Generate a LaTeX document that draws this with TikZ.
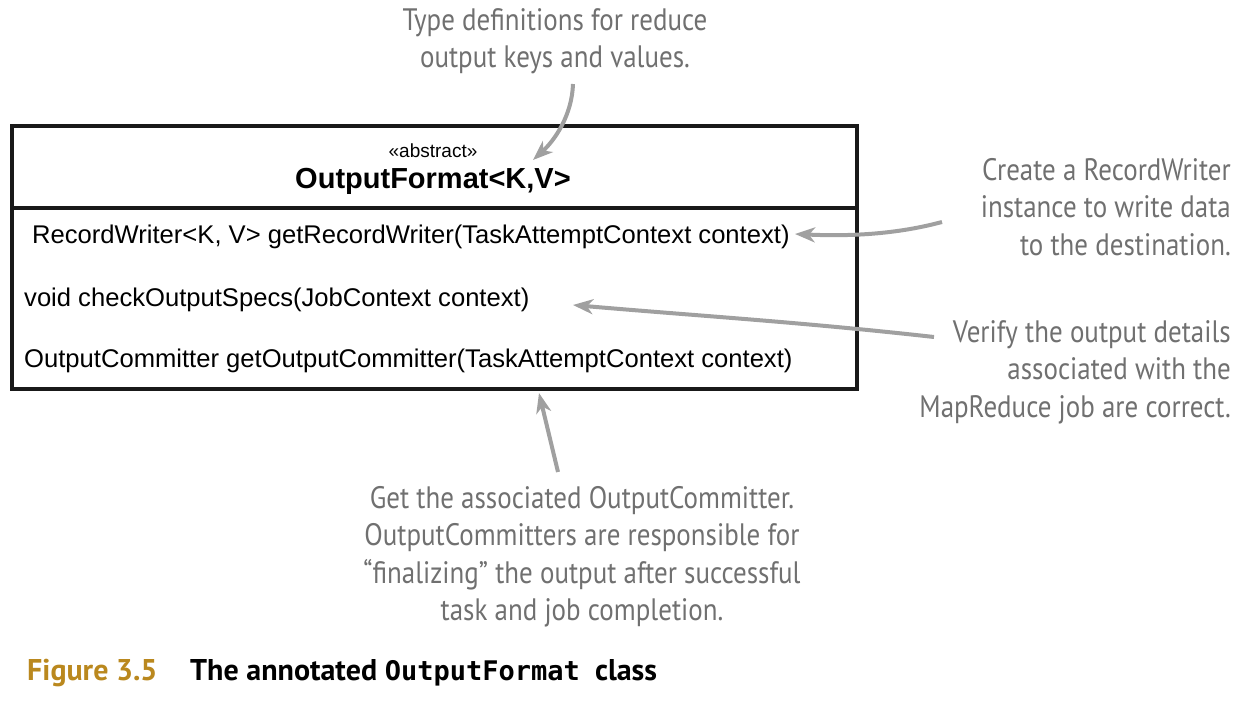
\documentclass[tikz,border=0pt]{standalone}
\usepackage{fontspec}
\setmainfont{Liberation Sans}
\newfontfamily\hand[FakeStretch=0.87]{PT Sans}
\newfontfamily\capfont{PT Sans}
\setmonofont{DejaVu Sans Mono}
\usetikzlibrary{arrows.meta}
\definecolor{handgray}{RGB}{112,112,112}
\definecolor{arrgray}{RGB}{160,160,160}
\definecolor{figgold}{RGB}{186,136,30}
\tikzset{
  note/.style={text=handgray, inner sep=0pt, font=\fontsize{31}{37.5}\selectfont\hand},
  meth/.style={anchor=base west, inner sep=0pt, font=\fontsize{25.6}{30}\selectfont},
  callout/.style={draw=arrgray, line width=4pt, -{Stealth[length=20pt,width=15pt,inset=6pt]}},
  boxline/.style={line width=3.6pt, draw=black!90}
}
\begin{document}
\begin{tikzpicture}[x=1pt,y=-1pt]
\useasboundingbox (0,0) rectangle (1237,712);
% class box
\draw[boxline] (12,126) rectangle (857,389);
\draw[boxline] (12,208) -- (857,208);
\node[anchor=base, inner sep=0pt, font=\fontsize{19}{22}\selectfont] (stereo) at (433,157) {«abstract»};
\node[anchor=base, inner sep=0pt, font=\fontsize{29}{34}\selectfont\bfseries] (title) at (433,188) {OutputFormat<K,V>};
\node[meth] (m1) at (32,243) {RecordWriter<K, V> getRecordWriter(TaskAttemptContext context)};
\node[meth] (m2) at (24,306) {void checkOutputSpecs(JobContext context)};
\node[meth] (m3) at (24,367) {OutputCommitter getOutputCommitter(TaskAttemptContext context)};
% notes
\node[note, align=center, anchor=north] (n1) at (555,8) {Type definitions for reduce\\output keys and values.};
\node[note, align=right, anchor=north east] (n2) at (1231,158) {Create a RecordWriter\\instance to write data\\to the destination.};
\node[note, align=right, anchor=north east] (n3) at (1231,320) {Verify the output details\\associated with the\\MapReduce job are correct.};
\node[note, align=center, anchor=north] (n4) at (582,486) {Get the associated OutputCommitter.\\OutputCommitters are responsible for\\“finalizing” the output after successful\\task and job completion.};
% arrow endpoints
\coordinate (a1s) at (573,84);
\coordinate (a1e) at (533,160);
\coordinate (a2s) at (942,222);
\coordinate (a2e) at (795,234);
\coordinate (a3s) at (934,337);
\coordinate (a3e) at (573,305);
\coordinate (a4s) at (558,472);
\coordinate (a4e) at (539,393);
\draw[callout] (a1s) .. controls (572,115) and (555,140) .. (a1e);
\draw[callout] (a2s) .. controls (890,236) and (840,236) .. (a2e);
\draw[callout] (a3s) .. controls (800,322) and (700,316) .. (a3e);
\draw[callout] (a4s) -- (a4e);
% caption
\node[anchor=base west, inner sep=0pt, font=\fontsize{30}{34}\selectfont\capfont\bfseries, text=figgold] (figno) at (27,680) {Figure 3.5};
\node[anchor=base west, inner sep=0pt, font=\fontsize{30}{34}\selectfont\capfont\bfseries] (figcap) at (190,680) {The annotated {\fontsize{27}{32}\selectfont\ttfamily\bfseries OutputFormat}\ \ class};
\end{tikzpicture}
\end{document}
